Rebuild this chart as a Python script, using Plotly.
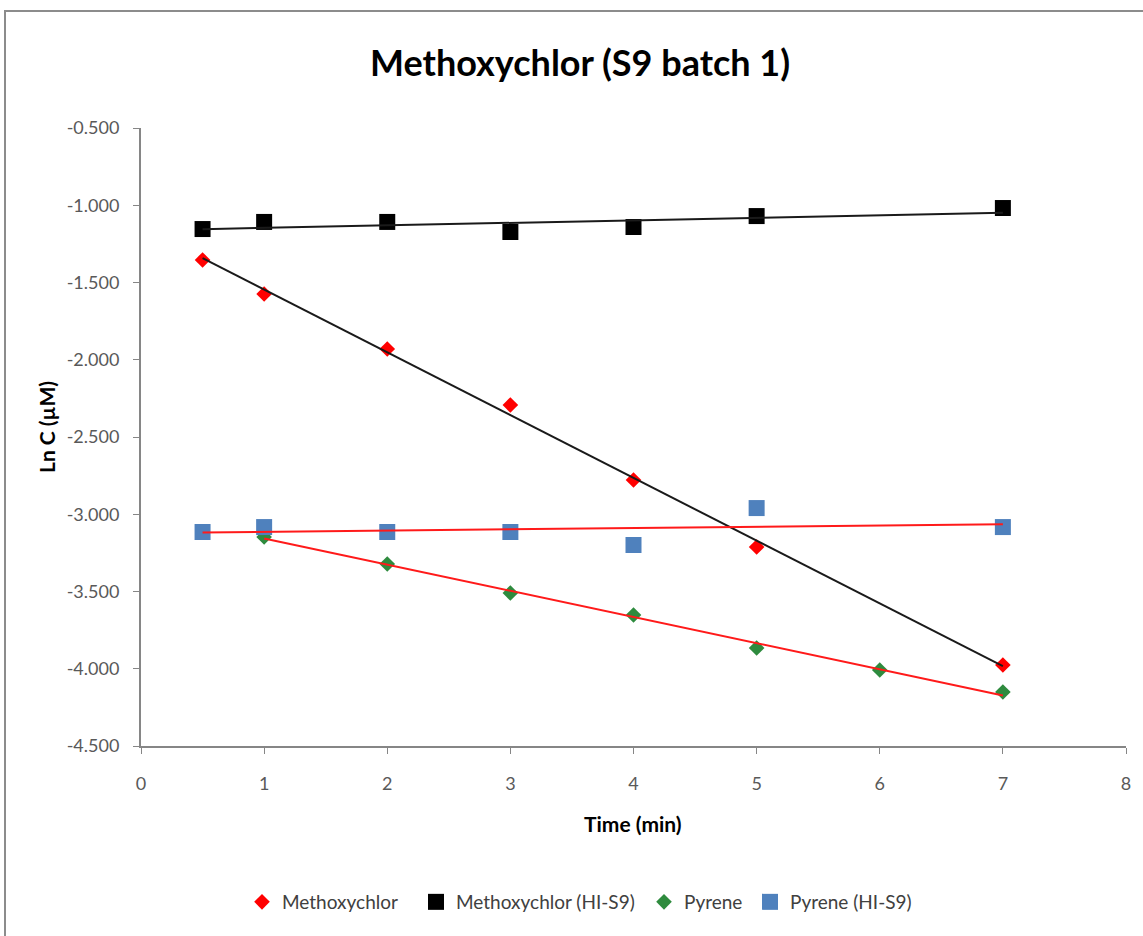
import numpy as np
import plotly.graph_objects as go

# Sampling times (min)
time_all = [0.5, 1, 2, 3, 4, 5, 7]
time_pyrene = [1, 2, 3, 4, 5, 6, 7]

# Ln of concentration (µM)
methoxychlor = [-1.354, -1.574, -1.930, -2.293, -2.778, -3.212, -3.976]
methoxychlor_hi = [-1.154, -1.108, -1.108, -1.173, -1.141, -1.070, -1.018]
pyrene = [-3.147, -3.322, -3.510, -3.652, -3.866, -4.008, -4.150]
pyrene_hi = [-3.115, -3.083, -3.115, -3.115, -3.199, -2.960, -3.083]

y_ticks = [-4.5, -4.0, -3.5, -3.0, -2.5, -2.0, -1.5, -1.0, -0.5]
x_ticks = [0, 1, 2, 3, 4, 5, 6, 7, 8]

FONT = "Lato"
TICK_COLOR = "#595959"
AXIS_COLOR = "#868686"

W, H = 1143, 936
L, R, T, B = 141, 17, 128, 190
pw, ph = W - L - R, H - T - B


def px_x(p):
    return (p - L) / pw


def px_y(p):
    return (H - B - p) / ph


fig = go.Figure()

series = [
    ("Methoxychlor", time_all, methoxychlor, "diamond", 12, "#ff0000"),
    ("Methoxychlor (HI-S9)", time_all, methoxychlor_hi, "square", 16, "#000000"),
    ("Pyrene", time_pyrene, pyrene, "diamond", 12, "#2e8b3e"),
    ("Pyrene (HI-S9)", time_all, pyrene_hi, "square", 16, "#4f81bd"),
]
legend_ids = ["legend", "legend2", "legend3", "legend4"]
for (name, xs, ys, sym, size, color), lg in zip(series, legend_ids):
    fig.add_trace(go.Scatter(
        x=xs, y=ys, mode="markers", name=name, legend=lg,
        marker=dict(symbol=sym, size=size, color=color, line=dict(width=0)),
    ))

# Linear trendlines fitted to each series
trend_colors = ["#1a1a1a", "#1a1a1a", "#ff1a1a", "#ff1a1a"]
for (name, xs, ys, _, _, _), tc in zip(series, trend_colors):
    slope, intercept = np.polyfit(xs, ys, 1)
    x0, x1 = min(xs), max(xs)
    fig.add_trace(go.Scatter(
        x=[x0, x1], y=[slope * x0 + intercept, slope * x1 + intercept],
        mode="lines", line=dict(color=tc, width=2), showlegend=False,
        hoverinfo="skip",
    ))

# One legend box per entry so each entry sits at its own spot
legend_marker_px = [262, 436, 664, 770]
legend_font = dict(family=FONT, size=19, color="#404040")
legend_layout = {}
for lg, mx in zip(legend_ids, legend_marker_px):
    legend_layout[lg] = dict(
        orientation="h", xref="container", yref="container",
        x=(mx - 20) / W, xanchor="left", y=1 - 902 / H, yanchor="middle",
        font=legend_font, itemwidth=30, bgcolor="rgba(0,0,0,0)",
    )

fig.update_layout(
    width=W, height=H,
    margin=dict(l=L, r=R, t=T, b=B),
    paper_bgcolor="white", plot_bgcolor="white",
    font=dict(family=FONT, color=TICK_COLOR, size=18),
    showlegend=True,
    **legend_layout,
    xaxis=dict(
        range=[0, 8], tickvals=x_ticks, ticktext=[str(v) for v in x_ticks],
        showgrid=False, zeroline=False, showline=True, linecolor=AXIS_COLOR,
        linewidth=2, ticks="outside", ticklen=6, tickcolor=AXIS_COLOR,
        ticklabelstandoff=14,
        tickfont=dict(family=FONT, size=18, color=TICK_COLOR),
    ),
    yaxis=dict(
        range=[-4.5, -0.5], tickvals=y_ticks,
        ticktext=[f"{v:.3f}" for v in y_ticks],
        showgrid=False, zeroline=False, showline=True, linecolor=AXIS_COLOR,
        linewidth=2, ticks="outside", ticklen=6, tickcolor=AXIS_COLOR,
        ticklabelstandoff=10,
        tickfont=dict(family=FONT, size=18, color=TICK_COLOR),
    ),
    annotations=[
        dict(text="<b>Methoxychlor (S9 batch 1)</b>", xref="paper", yref="paper",
             x=px_x(580), y=px_y(62), xanchor="center", yanchor="middle",
             showarrow=False, font=dict(family=FONT, size=36, color="#000000")),
        dict(text="<b>Time (min)</b>", xref="paper", yref="paper",
             x=px_x(633), y=px_y(823), xanchor="center", yanchor="middle",
             showarrow=False, font=dict(family=FONT, size=21, color="#000000")),
        dict(text="<b>Ln C (µM)</b>", xref="paper", yref="paper",
             x=px_x(46), y=px_y(427), xanchor="center", yanchor="middle",
             textangle=-90, showarrow=False,
             font=dict(family=FONT, size=21, color="#000000")),
    ],
    shapes=[
        dict(type="rect", xref="paper", yref="paper",
             x0=px_x(5), x1=px_x(1160), y0=px_y(11), y1=px_y(960),
             line=dict(color="#8c8c8c", width=2), fillcolor="rgba(0,0,0,0)",
             layer="below"),
    ],
)

fig.write_html("out.html")
